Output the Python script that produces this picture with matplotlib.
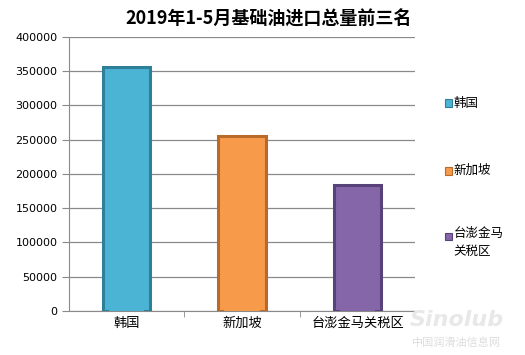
import matplotlib
matplotlib.use('Agg')
import matplotlib.pyplot as plt
from matplotlib.patches import Rectangle

plt.rcParams['font.family'] = ['Noto Sans CJK SC', 'DejaVu Sans']

# Data
categories = ['韩国', '新加坡', '台澎金马关税区']
legend_labels = ['韩国', '新加坡', '台澎金马\n关税区']
values = [356000, 255000, 184000]
colors = ['#4bb3d3', '#f79a4a', '#8566a8']
edge_colors = ['#2f7f99', '#b86a28', '#57437a']
y_ticks = [0, 50000, 100000, 150000, 200000, 250000, 300000, 350000, 400000]

fig = plt.figure(figsize=(5.25, 3.55), dpi=100)
ax = fig.add_axes([0.131, 0.124, 0.66, 0.772])

x = list(range(len(categories)))
ax.bar(x, values, width=0.41, color=colors, edgecolor=edge_colors,
       linewidth=2.2, zorder=3)
# inner face for a bevel look
ax.bar(x, [v * 0.985 for v in values], width=0.31, color=colors, zorder=4)

ax.set_xlim(-0.5, 2.5)
ax.set_ylim(0, 400000)
ax.set_yticks(y_ticks)
ax.set_yticklabels([str(t) for t in y_ticks], fontsize=8, family='DejaVu Sans')
ax.yaxis.grid(True, color='#8a8a8a', linewidth=0.9, zorder=0)
ax.set_xticks(x)
ax.set_xticklabels(categories, fontsize=9.5)
ax.set_xticks([0.5, 1.5, 2.5], minor=True)
ax.tick_params(axis='x', which='major', length=0, pad=4)
ax.tick_params(axis='x', which='minor', length=4, color='#8a8a8a')
ax.tick_params(axis='y', length=5, color='#8a8a8a', pad=3)
for s in ['top', 'right']:
    ax.spines[s].set_visible(False)
for s in ['left', 'bottom']:
    ax.spines[s].set_color('#8a8a8a')

fig.text(0.512, 0.947, '2019年1-5月基础油进口总量前三名', ha='center', va='center',
         fontsize=13, fontweight='bold')

# Legend on the right
leg_y = [0.71, 0.52, 0.335]
for lab, c, ec, yy in zip(legend_labels, colors, edge_colors, leg_y):
    fig.patches.append(Rectangle((0.847, yy - 0.012), 0.013, 0.022,
                                 transform=fig.transFigure, facecolor=c,
                                 edgecolor=ec, linewidth=0.8))
    if '\n' in lab:
        fig.text(0.864, yy + 0.025, lab, ha='left', va='top', fontsize=9,
                 linespacing=1.5)
    else:
        fig.text(0.864, yy, lab, ha='left', va='center', fontsize=9)

# watermark
fig.text(0.87, 0.1, 'Sinolub', fontsize=16, color='#e8e8e8', style='italic',
         fontweight='bold', ha='center', va='center', family='DejaVu Sans')
fig.text(0.87, 0.035, '中国润滑油信息网', fontsize=8, color='#dddddd',
         ha='center', va='center')

fig.savefig('out.png', dpi=100)
